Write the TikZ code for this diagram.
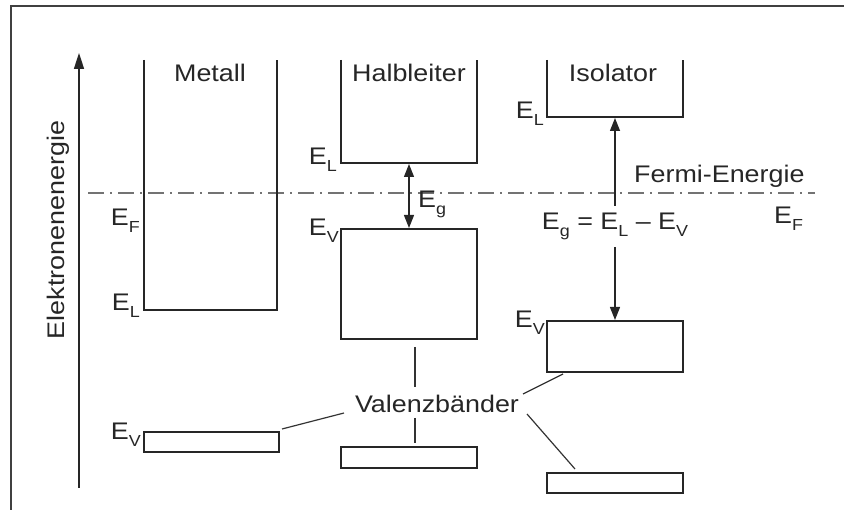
\documentclass[tikz,border=0pt]{standalone}
\usepackage{fontspec}
\setmainfont{Liberation Sans}[FakeStretch=1.12]
\usetikzlibrary{arrows.meta}
\newcommand\Esub[1]{E\raisebox{-7pt}{\fontsize{16}{16}\selectfont #1}}
\tikzset{
  band/.style={line width=1.7pt, black!85},
  lbl/.style={inner sep=0pt, font=\fontsize{24}{28}\selectfont, text=black!85},
  conn/.style={line width=1.2pt, black!80},
  fermi/.style={line width=1.3pt, black!55, dash pattern=on 16pt off 6pt on 2pt off 6pt},
  tip/.style={-{Triangle[length=13pt,width=10pt]}},
}
\begin{document}
\begin{tikzpicture}[x=1pt,y=-1pt]
\useasboundingbox (0,0) rectangle (844,510);
% frame
\draw[line width=2.5pt, black!75] (844,6) -- (11,6) -- (11,510);
% axis
\coordinate (axB) at (79,488);
\coordinate (axT) at (79,53);
\draw[line width=1.6pt, black!85, -{Triangle[length=16pt,width=10pt]}] (axB) -- (axT);
\node[lbl, rotate=90] (axlbl) at (58,230) {Elektronenenergie};
% Fermi level
\coordinate (fL) at (88,193);
\coordinate (fR) at (815,193);
\draw[fermi] (fL) -- (fR);
% Metall
\draw[band] (144,60) -- (144,310) -- (277,310) -- (277,60);
\node[lbl] (metall) at (210,73) {Metall};
\node[lbl, anchor=base east] (mEF) at (140,226) {\Esub{F}};
\node[lbl, anchor=base east] (mEL) at (140,311) {\Esub{L}};
\draw[band] (144,432) rectangle (279,452);
\coordinate (mVr) at (282,429);
\node[lbl, anchor=base east] (mEV) at (141,440) {\Esub{V}};
% Halbleiter
\draw[band] (341,60) -- (341,163) -- (477,163) -- (477,60);
\node[lbl] (halb) at (409,73) {Halbleiter};
\node[lbl, anchor=base east] (hEL) at (337,165) {\Esub{L}};
\draw[band] (341,229) rectangle (477,339);
\node[lbl, anchor=base east] (hEV) at (339,236) {\Esub{V}};
\coordinate (hgT) at (409,164);
\coordinate (hgB) at (409,228);
\draw[line width=1.4pt, black!85, {Triangle[length=13pt,width=10pt]}-{Triangle[length=13pt,width=10pt]}] (hgT) -- (hgB);
\node[lbl, anchor=base west] (hEg) at (418,208) {\Esub{g}};
\draw[band] (341,447) rectangle (477,468);
% Isolator
\draw[band] (547,60) -- (547,117) -- (683,117) -- (683,60);
\node[lbl] (iso) at (613,73) {Isolator};
\node[lbl, anchor=base east] (iEL) at (544,119) {\Esub{L}};
\draw[band] (547,321) rectangle (683,372);
\node[lbl, anchor=base east] (iEV) at (545,328) {\Esub{V}};
\draw[band] (547,473) rectangle (683,493);
\node[lbl, anchor=base] (eq) at (615,230) {\Esub{g} = \Esub{L} -- \Esub{V}};
\coordinate (iaT) at (615,118);
\coordinate (iaTs) at (615,206);
\coordinate (iaB) at (615,320);
\coordinate (iaBs) at (615,247);
\draw[line width=1.4pt, black!85, tip] (iaTs) -- (iaT);
\draw[line width=1.4pt, black!85, tip] (iaBs) -- (iaB);
\node[lbl, anchor=base west] (fermiE) at (634,183) {Fermi-Energie};
\node[lbl, anchor=base west] (rEF) at (774,224) {\Esub{F}};
% Valenzbaender
\node[lbl, anchor=base] (val) at (437,413) {Valenzbänder};
\coordinate (v1a) at (344,413);
\coordinate (v2a) at (415,347);
\coordinate (v2b) at (415,387);
\coordinate (v3a) at (415,418);
\coordinate (v3b) at (415,443);
\coordinate (v4a) at (523,394);
\coordinate (v4b) at (563,374);
\coordinate (v5a) at (527,414);
\coordinate (v5b) at (575,469);
\draw[conn] (v1a) -- (mVr);
\draw[conn] (v2a) -- (v2b);
\draw[conn] (v3a) -- (v3b);
\draw[conn] (v4a) -- (v4b);
\draw[conn] (v5a) -- (v5b);
\end{tikzpicture}
\end{document}
